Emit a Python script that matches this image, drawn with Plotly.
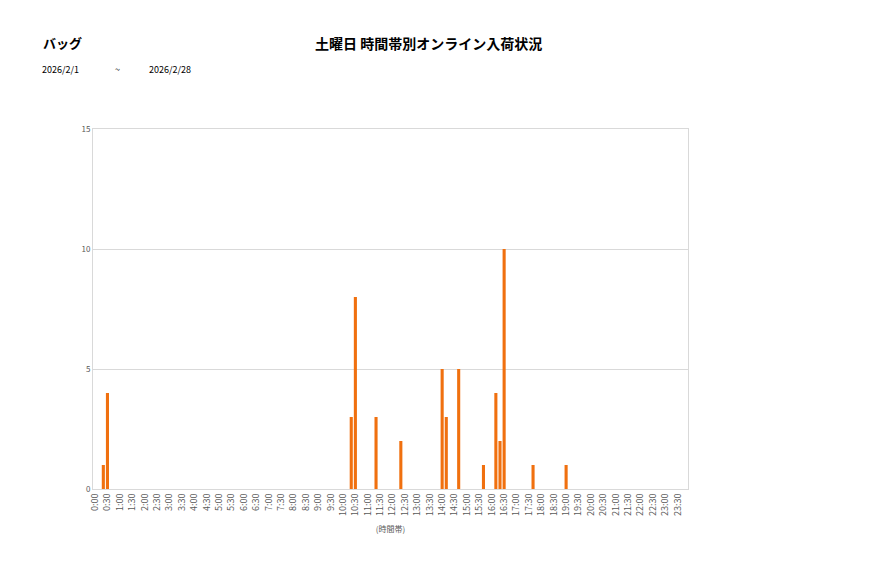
"""
土曜日 時間帯別オンライン入荷状況（バッグ）: 10分刻みの棒グラフ。
"""

import plotly.graph_objects as go

# 10分刻みの時間帯ラベル (0:00 〜 23:50)
slots = [f"{h}:{m:02d}" for h in range(24) for m in range(0, 60, 10)]

# 入荷件数 (1行 = 2時間分、12スロット)
counts = [
    0, 0, 1, 4, 0, 0, 0, 0, 0, 0, 0, 0,     # 0:00-1:50
    0, 0, 0, 0, 0, 0, 0, 0, 0, 0, 0, 0,     # 2:00-3:50
    0, 0, 0, 0, 0, 0, 0, 0, 0, 0, 0, 0,     # 4:00-5:50
    0, 0, 0, 0, 0, 0, 0, 0, 0, 0, 0, 0,     # 6:00-7:50
    0, 0, 0, 0, 0, 0, 0, 0, 0, 0, 0, 0,     # 8:00-9:50
    0, 0, 3, 8, 0, 0, 0, 0, 3, 0, 0, 0,     # 10:00-11:50
    0, 0, 2, 0, 0, 0, 0, 0, 0, 0, 0, 0,     # 12:00-13:50
    5, 3, 0, 0, 5, 0, 0, 0, 0, 0, 1, 0,     # 14:00-15:50
    0, 4, 2, 10, 0, 0, 0, 0, 0, 0, 1, 0,    # 16:00-17:50
    0, 0, 0, 0, 0, 0, 1, 0, 0, 0, 0, 0,     # 18:00-19:50
    0, 0, 0, 0, 0, 0, 0, 0, 0, 0, 0, 0,     # 20:00-21:50
    0, 0, 0, 0, 0, 0, 0, 0, 0, 0, 0, 0,     # 22:00-23:50
]

# 30分ごとの目盛り
tick_labels = slots[::3]

category = "バッグ"
title = "土曜日 時間帯別オンライン入荷状況"
date_from = "2026/2/1"
date_to = "2026/2/28"

FONT = "Noto Sans CJK JP"
W, H = 877, 578
L, R, T, B = 85, 197, 121, 97   # ページ余白 8px を差し引いた値
OFF = 8

fig = go.Figure(
    go.Bar(
        x=slots,
        y=counts,
        marker=dict(color="#F0700F", line=dict(width=0)),
        hoverinfo="x+y",
    )
)


def note(text, px_x, px_y, size, anchor="left"):
    # 画面上の画素座標 -> paper 座標
    return dict(
        text=text, showarrow=False, xref="paper", yref="paper",
        x=(px_x - OFF - L) / (W - L - R),
        y=1 - (px_y - OFF - T) / (H - T - B),
        xanchor=anchor, yanchor="middle",
        font=dict(size=size, color="black", family=FONT),
    )


fig.update_layout(
    width=W,
    height=H,
    margin=dict(l=L, r=R, t=T, b=B),
    paper_bgcolor="white",
    plot_bgcolor="white",
    bargap=0.25,
    showlegend=False,
    font=dict(family=FONT, color="#595959", size=8),
    annotations=[
        note(f"<b>{category}</b>", 41, 43, 13),
        note(f"<b>{title}</b>", 428, 43, 14, "center"),
        note(date_from, 40, 70, 9),
        note("~", 113, 70, 9),
        note(date_to, 147, 70, 9),
    ],
)

fig.update_xaxes(
    type="category",
    categoryorder="array",
    categoryarray=slots,
    tickmode="array",
    tickvals=tick_labels,
    ticktext=tick_labels,
    tickangle=-90,
    tickfont=dict(size=9, color="#595959"),
    showgrid=False,
    showline=True,
    linecolor="#d9d9d9",
    mirror=True,
    ticks="",
    title=dict(text="(時間帯)", font=dict(size=8, color="#595959"), standoff=11),
)
fig.update_yaxes(
    range=[0, 15],
    dtick=5,
    tick0=0,
    showgrid=True,
    gridcolor="#d9d9d9",
    showline=True,
    linecolor="#d9d9d9",
    mirror=True,
    zeroline=False,
    tickfont=dict(size=8, color="#595959"),
    ticks="",
)

fig.write_html("out.html")
